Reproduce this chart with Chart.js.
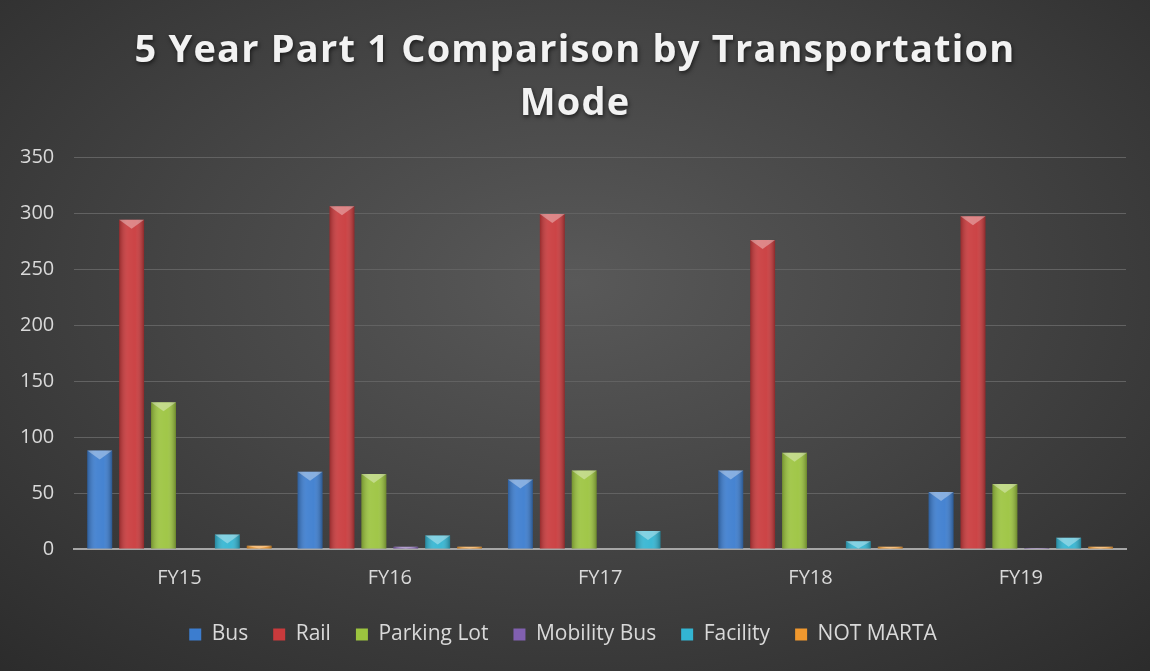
<!DOCTYPE html>
<html>
<head>
<meta charset="utf-8">
<script src="https://cdn.jsdelivr.net/npm/chart.js@4.4.1/dist/chart.umd.min.js"></script>
<style>
  html, body { margin: 0; padding: 0; }
  #wrap {
    width: 1150px; height: 671px; position: relative;
    background: radial-gradient(ellipse 75% 80% at 50% 42%, #595959 0%, #454545 45%, #2b2b2b 100%);
  }
</style>
</head>
<body>
<div id="wrap"><canvas id="chart" width="1150" height="671"></canvas></div>
<script>
const years = ["FY15", "FY16", "FY17", "FY18", "FY19"];
const bus = [88, 69, 62, 70, 51];
const rail = [294, 306, 299, 276, 297];
const parkingLot = [131, 67, 70, 86, 58];
const mobilityBus = [0, 2, 0, 0, 1];
const facility = [13, 12, 16, 7, 10];
const notMarta = [3, 2, 0, 2, 2];
const titleLines = ["5 Year Part 1 Comparison by Transportation", "Mode"];

const textColor = "#d9d9d9";

function makeSet(label, data, color) {
  return { label, data, backgroundColor: color, borderColor: color, borderWidth: 0 };
}

// title drawn by hand so it can get the wide letter spacing of the original
const spacedTitle = {
  id: "spacedTitle",
  afterDraw(chart) {
    const ctx = chart.ctx;
    ctx.save();
    ctx.font = "bold 38px 'Open Sans'";
    ctx.letterSpacing = "1.2px";
    ctx.fillStyle = "#f2f2f2";
    ctx.textAlign = "center";
    ctx.textBaseline = "alphabetic";
    ctx.shadowColor = "rgba(0,0,0,0.6)";
    ctx.shadowBlur = 4;
    ctx.shadowOffsetX = 1;
    ctx.shadowOffsetY = 2;
    titleLines.forEach((line, i) => ctx.fillText(line, chart.width / 2, 62 + i * 53));
    ctx.restore();
  }
};

// shading + bevelled top like the office bar style
const bevel = {
  id: "bevel",
  afterDatasetsDraw(chart) {
    const ctx = chart.ctx;
    chart.data.datasets.forEach((ds, i) => {
      chart.getDatasetMeta(i).data.forEach((bar) => {
        const w = bar.width, left = bar.x - w / 2, top = bar.y, bottom = bar.base;
        const h = bottom - top;
        if (h < 0.5) return;
        ctx.save();
        const g = ctx.createLinearGradient(left, 0, left + w, 0);
        g.addColorStop(0, "rgba(0,0,0,0.25)");
        g.addColorStop(0.35, "rgba(255,255,255,0.08)");
        g.addColorStop(0.65, "rgba(255,255,255,0.05)");
        g.addColorStop(1, "rgba(0,0,0,0.3)");
        ctx.fillStyle = g;
        ctx.fillRect(left, top, w, h);
        const cap = Math.min(9, h);
        ctx.fillStyle = "rgba(255,255,255,0.35)";
        ctx.beginPath();
        ctx.moveTo(left, top);
        ctx.lineTo(left + w, top);
        ctx.lineTo(bar.x, top + cap);
        ctx.closePath();
        ctx.fill();
        ctx.restore();
      });
    });
  }
};

new Chart(document.getElementById("chart"), {
  type: "bar",
  data: {
    labels: years,
    datasets: [
      makeSet("Bus", bus, "#3c7dcf"),
      makeSet("Rail", rail, "#c93a3c"),
      makeSet("Parking Lot", parkingLot, "#9cc43f"),
      makeSet("Mobility Bus", mobilityBus, "#8160b0"),
      makeSet("Facility", facility, "#33b5d2"),
      makeSet("NOT MARTA", notMarta, "#f0982e"),
    ],
  },
  options: {
    responsive: false,
    animation: false,
    layout: { padding: { left: 0, right: 24, top: 157, bottom: 16 } },
    datasets: { bar: { categoryPercentage: 0.91, barPercentage: 0.78 } },
    plugins: {
      title: { display: false },
      legend: {
        position: "bottom",
        labels: {
          color: textColor,
          font: { family: "Open Sans", size: 21 },
          boxWidth: 12,
          boxHeight: 12,
          padding: 25,
        },
      },
      tooltip: { enabled: false },
    },
    scales: {
      x: {
        grid: { display: false },
        border: { color: "#a6a6a6", width: 2 },
        ticks: { color: textColor, font: { family: "Open Sans", size: 20 }, padding: 9 },
      },
      y: {
        min: 0,
        max: 350,
        ticks: { stepSize: 50, color: textColor, font: { family: "Open Sans", size: 20 }, padding: 20 },
        grid: { color: "#626262", lineWidth: 1, drawTicks: false },
        border: { display: false },
      },
    },
  },
  plugins: [bevel, spacedTitle],
});
</script>
</body>
</html>
